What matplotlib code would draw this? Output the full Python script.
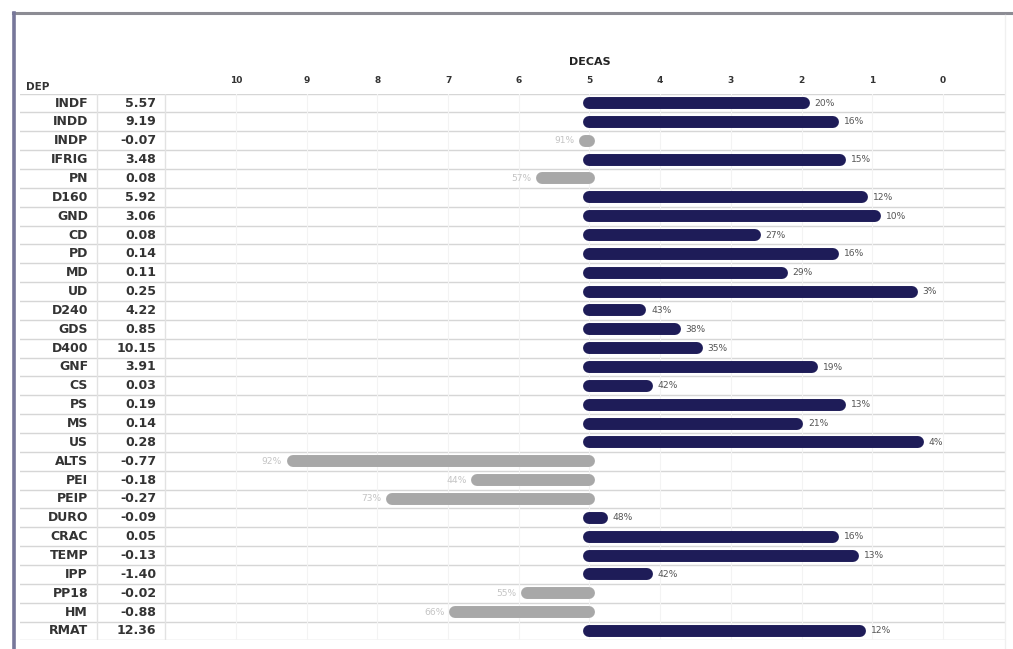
import matplotlib
matplotlib.use("Agg")
import matplotlib.pyplot as plt
from matplotlib.lines import Line2D
from matplotlib.transforms import blended_transform_factory

# rows of the table (top to bottom)
deps = ["INDF", "INDD", "INDP", "IFRIG", "PN", "D160", "GND", "CD", "PD", "MD",
        "UD", "D240", "GDS", "D400", "GNF", "CS", "PS", "MS", "US", "ALTS",
        "PEI", "PEIP", "DURO", "CRAC", "TEMP", "IPP", "PP18", "HM", "RMAT"]
dep_values = ["5.57", "9.19", "-0.07", "3.48", "0.08", "5.92", "3.06", "0.08",
              "0.14", "0.11", "0.25", "4.22", "0.85", "10.15", "3.91", "0.03",
              "0.19", "0.14", "0.28", "-0.77", "-0.18", "-0.27", "-0.09",
              "0.05", "-0.13", "-1.40", "-0.02", "-0.88", "12.36"]
decas = [1.97, 1.55, 5.06, 1.45, 5.67, 1.14, 0.96, 2.66, 1.55, 2.28,
         0.44, 4.28, 3.79, 3.48, 1.85, 4.19, 1.45, 2.06, 0.35, 9.20,
         6.59, 7.79, 4.82, 1.55, 1.27, 4.19, 5.88, 6.90, 1.17]
pcts = [20, 16, 91, 15, 57, 12, 10, 27, 16, 29, 3, 43, 38, 35, 19, 42, 13, 21,
        4, 92, 44, 73, 48, 16, 13, 42, 55, 66, 12]
ticks = list(range(11))
base = 5

navy = "#1e1c58"
grey = "#a8a8a8"

W, H = 1013, 649
fig = plt.figure(figsize=(W / 100, H / 100), dpi=100)
fig.patch.set_facecolor("white")

top_px, bot_px = 93.6, 640.4
ax = fig.add_axes([20 / W, 1 - bot_px / H, (1005 - 20) / W, (bot_px - top_px) / H])
ax.set_xlim(13.055, -0.877)
ax.set_ylim(len(deps) - 0.5, -0.5)
for s in ax.spines.values():
    s.set_visible(False)

# grid
for i in range(len(deps) + 1):
    ax.axhline(i - 0.5, color="#d6d6d6", lw=1.0, zorder=0)
ax.set_xticks(ticks)
ax.xaxis.tick_top()
ax.tick_params(axis="x", length=0, pad=6, labelsize=6.5, labelcolor="#333333")
for lab in ax.get_xticklabels():
    lab.set_fontweight("bold")
ax.set_yticks([])
for t in ticks:
    ax.axvline(t, color="#f3f3f3", lw=0.8, zorder=0)

# table separators
trans = blended_transform_factory(ax.transAxes, ax.transData)
for xp in (97, 165):
    xa = (xp - 20) / (1005 - 20)
    ax.plot([xa, xa], [-0.5, len(deps) - 0.5], transform=trans,
            color="#e2e2e2", lw=1.0, zorder=0)

# bars
for i, (d, p) in enumerate(zip(decas, pcts)):
    if d < base:
        ax.plot([base, d], [i, i], color=navy, lw=8.6, solid_capstyle="round", zorder=3)
        ax.text(d - 0.15, i, f"{p}%", ha="left", va="center", fontsize=6.6,
                color="#555555", zorder=4)
    else:
        ax.plot([base, d], [i, i], color=grey, lw=8.6, solid_capstyle="round", zorder=3)
        ax.text(d + 0.15, i, f"{p}%", ha="right", va="center", fontsize=6.6,
                color="#c4c4c4", zorder=4)

# table text
for i, (name, val) in enumerate(zip(deps, dep_values)):
    ax.text((88 - 20) / 985, i, name, transform=trans, ha="right", va="center",
            fontsize=9, fontweight="bold", color="#333333")
    ax.text((156 - 20) / 985, i, val, transform=trans, ha="right", va="center",
            fontsize=9, fontweight="bold", color="#333333")

fig.text(26 / W, 1 - 87 / H, "DEP", ha="left", va="center", fontsize=7.5,
         fontweight="bold", color="#333333")
ax.text(base, 1 - 62 / H, "DECAS",
        transform=blended_transform_factory(ax.transData, fig.transFigure),
        ha="center", va="center", fontsize=8, fontweight="bold", color="#222222")

# outer frame
fig.add_artist(Line2D([13 / W, 1], [1 - 13 / H, 1 - 13 / H], transform=fig.transFigure,
                      color="#8c8c94", lw=2.2))
fig.add_artist(Line2D([14 / W, 14 / W], [0, 1 - 13 / H], transform=fig.transFigure,
                      color="#77779a", lw=2.6))
fig.add_artist(Line2D([1005 / W, 1005 / W], [0, 1 - 15 / H], transform=fig.transFigure,
                      color="#f0f0f0", lw=1.0))

fig.savefig("out.png", dpi=100, facecolor="white")
